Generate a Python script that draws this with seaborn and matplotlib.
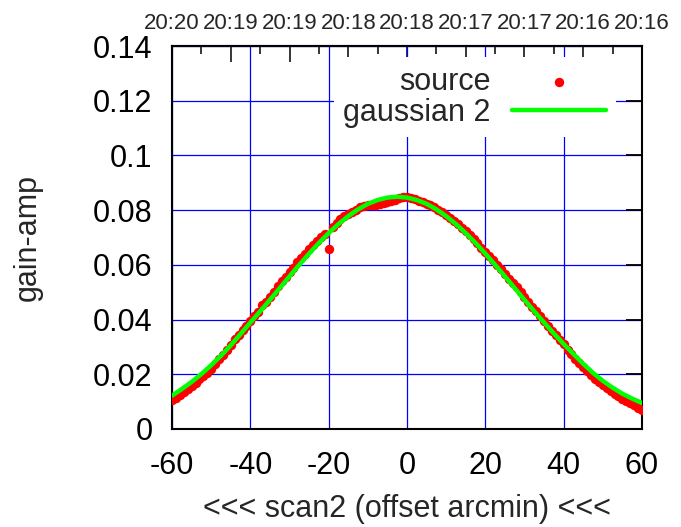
import matplotlib
matplotlib.use('Agg')
import matplotlib.pyplot as plt
import seaborn as sns
import pandas as pd

# scan offsets (arcmin) and measured gain amplitude
src_x = list(range(-60, 61))
src_y = [0.0107, 0.0114, 0.0125, 0.0134, 0.0146, 0.0157, 0.0168, 0.0181, 0.0194, 0.0205,
         0.0219, 0.0236, 0.0254, 0.0270, 0.0290, 0.0308, 0.0330, 0.0342, 0.0362, 0.0378,
         0.0395, 0.0412, 0.0428, 0.0452, 0.0465, 0.0484, 0.0502, 0.0521, 0.0540, 0.0556,
         0.0575, 0.0590, 0.0610, 0.0625, 0.0641, 0.0658, 0.0672, 0.0688, 0.0700, 0.0712,
         0.0657, 0.0740, 0.0752, 0.0766, 0.0778, 0.0786, 0.0795, 0.0802, 0.0810, 0.0815,
         0.0818, 0.0820, 0.0818, 0.0822, 0.0825, 0.0830, 0.0834, 0.0838, 0.0846, 0.0849,
         0.0848, 0.0846, 0.0840, 0.0833, 0.0830, 0.0822, 0.0817, 0.0810, 0.0802, 0.0792,
         0.0783, 0.0770, 0.0760, 0.0748, 0.0736, 0.0722, 0.0708, 0.0693, 0.0680, 0.0663,
         0.0648, 0.0632, 0.0617, 0.0600, 0.0583, 0.0567, 0.0550, 0.0534, 0.0518, 0.0499,
         0.0482, 0.0464, 0.0446, 0.0430, 0.0412, 0.0394, 0.0376, 0.0358, 0.0342, 0.0325,
         0.0310, 0.0290, 0.0274, 0.0257, 0.0241, 0.0228, 0.0211, 0.0197, 0.0183, 0.0170,
         0.0160, 0.0148, 0.0138, 0.0128, 0.0119, 0.0110, 0.0102, 0.0094, 0.0087, 0.0078,
         0.0071]

# fitted curve
fit_x = [-60, -57.5, -55, -52.5, -50, -47.5, -45, -42.5, -40, -37.5, -35, -32.5, -30,
         -27.5, -25, -22.5, -20, -17.5, -15, -12.5, -10, -7.5, -5, -2.5, 0, 2.5, 5, 7.5,
         10, 12.5, 15, 17.5, 20, 22.5, 25, 27.5, 30, 32.5, 35, 37.5, 40, 42.5, 45, 47.5,
         50, 52.5, 55, 57.5, 60]
fit_y = [0.0122, 0.0146, 0.0172, 0.0201, 0.0233, 0.0268, 0.0306, 0.0347, 0.0389, 0.0430,
         0.0472, 0.0515, 0.0558, 0.0600, 0.0641, 0.0680, 0.0716, 0.0749, 0.0778, 0.0803,
         0.0823, 0.0837, 0.0846, 0.0849, 0.0846, 0.0837, 0.0823, 0.0803, 0.0778, 0.0749,
         0.0716, 0.0680, 0.0641, 0.0600, 0.0558, 0.0515, 0.0472, 0.0430, 0.0389, 0.0349,
         0.0311, 0.0274, 0.0238, 0.0205, 0.0176, 0.0151, 0.0129, 0.0111, 0.0095]

x_ticks = [-60, -40, -20, 0, 20, 40, 60]
y_ticks = [0, 0.02, 0.04, 0.06, 0.08, 0.1, 0.12, 0.14]
y_labels = ['0', '0.02', '0.04', '0.06', '0.08', '0.1', '0.12', '0.14']
top_ticks = [-60, -45, -30, -15, 0, 15, 30, 45, 60]
top_minor = [-52.5, -37.5, -22.5, -7.5, 7.5, 22.5, 37.5, 52.5]
top_labels = ['20:20', '20:19', '20:19', '20:18', '20:18', '20:17', '20:17', '20:16', '20:16']

src = pd.DataFrame({'x': src_x, 'y': src_y})
fit = pd.DataFrame({'x': fit_x, 'y': fit_y})

sns.set_style('white')
plt.rcParams['font.family'] = ['Liberation Sans', 'DejaVu Sans']

fig = plt.figure(figsize=(6.81, 5.27), dpi=100)
ax = fig.add_axes([0.2526, 0.186, 0.6901, 0.7267])

sns.scatterplot(data=src, x='x', y='y', ax=ax, color='#ff0000', s=46, linewidth=0,
                label='source', zorder=3)
sns.lineplot(data=fit, x='x', y='y', ax=ax, color='#00ff00', linewidth=3.2,
             label='gaussian 2', zorder=4)

ax.set_xlim(-60, 60)
ax.set_ylim(0, 0.14)
ax.set_xticks(x_ticks)
ax.set_xticklabels([str(t) for t in x_ticks])
ax.set_yticks(y_ticks)
ax.set_yticklabels(y_labels)
ax.grid(True, color='#0000ff', linewidth=0.9)
ax.tick_params(axis='both', direction='in', length=11.5, width=1.3, labelsize=22,
               colors='black')
ax.tick_params(axis='x', top=False, pad=16)
ax.tick_params(axis='y', right=True, pad=14)
for sp in ax.spines.values():
    sp.set_color('black')
    sp.set_linewidth(1.5)

top = ax.secondary_xaxis('top')
top.set_xticks(top_ticks, top_labels)
top.set_xticks(top_minor, minor=True)
top.tick_params(which='major', direction='in', length=11.5, width=1.3, labelsize=16, pad=9)
top.tick_params(which='minor', direction='in', length=6, width=1.3)
top.spines['top'].set_linewidth(1.5)

ax.set_xlabel('<<< scan2 (offset arcmin) <<<', fontsize=22, labelpad=9)
ax.set_ylabel('gain-amp', fontsize=22, labelpad=36)

ax.legend(loc='upper right', bbox_to_anchor=(0.944, 0.97), markerfirst=False,
          frameon=True, fancybox=False, edgecolor='none', facecolor='white',
          framealpha=1, fontsize=22, handlelength=3.1, handletextpad=0.7,
          labelspacing=0.05, borderpad=0.3, borderaxespad=0)

fig.savefig('out.png', dpi=100)
